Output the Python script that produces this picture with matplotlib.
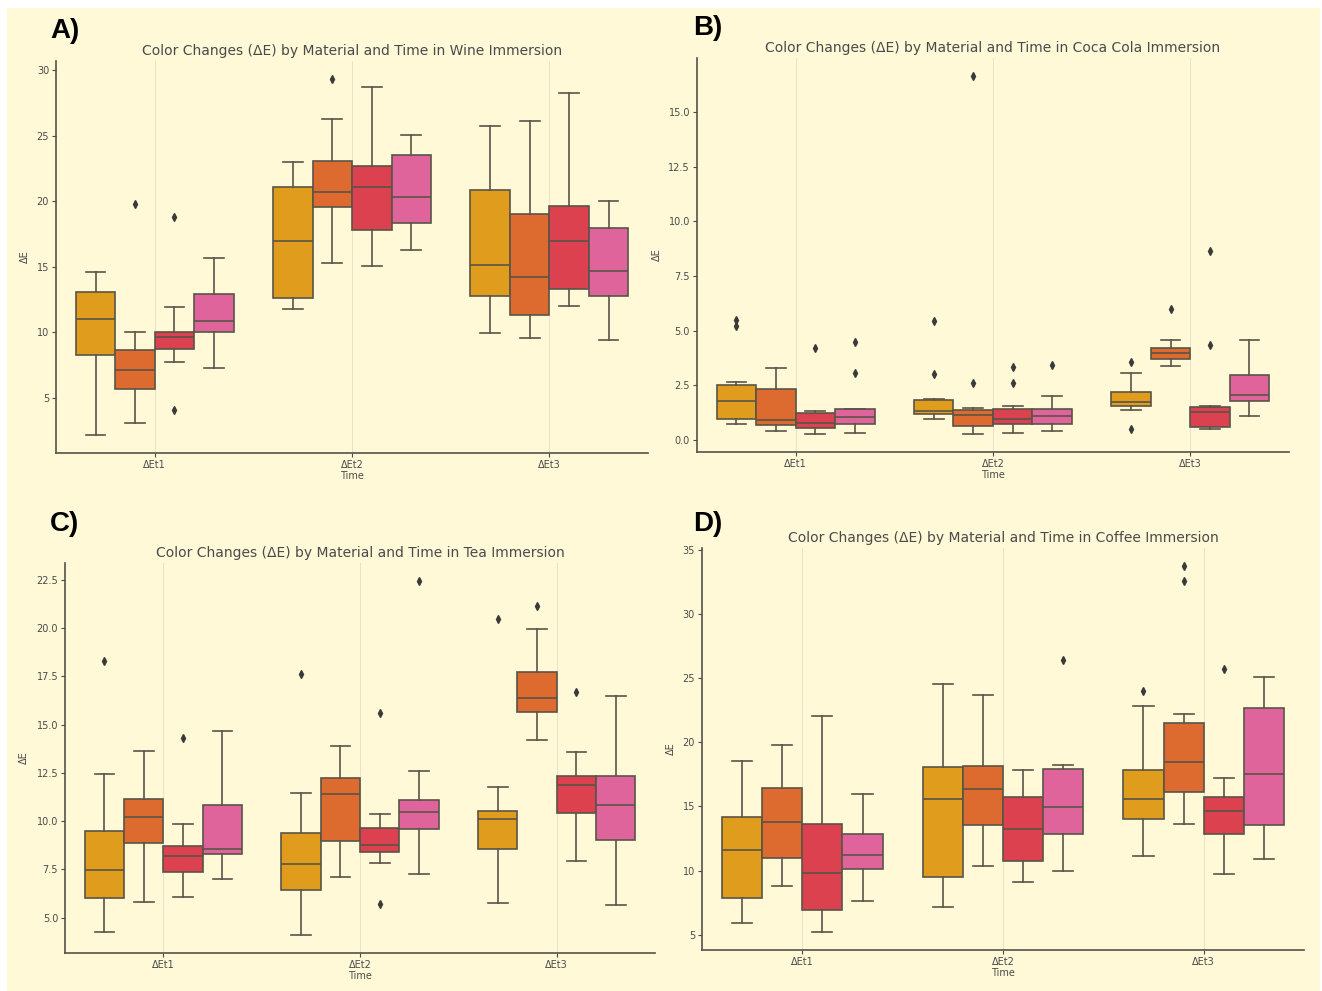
#!/usr/bin/env python3
import matplotlib

matplotlib.use("Agg")

import matplotlib.pyplot as plt
from matplotlib.patches import Rectangle

IMAGE_DPI = 100.0
WIDTH = 1322
HEIGHT = 991

BG = "#FFF9D8"
EDGE = "#5A5447"
TEXT = "#4A4A4A"

times = ["ΔEt1", "ΔEt2", "ΔEt3"]
box_colors = ["#E09C1C", "#DD6A2E", "#DC4150", "#E0649C"]

# A) wine - rows are times, columns are materials
wine_low = [[2.15, 3.1, 7.7, 7.25], [11.8, 15.3, 15.1, 16.3], [9.95, 9.55, 12.0, 9.4]]
wine_q1 = [[8.3, 5.7, 8.7, 10.05], [12.6, 19.6, 17.8, 18.35], [12.8, 11.3, 13.3, 12.8]]
wine_med = [[11.0, 7.1, 9.65, 10.85], [17.0, 20.7, 21.1, 20.3], [15.15, 14.25, 16.95, 14.65]]
wine_q3 = [[13.1, 8.65, 10.05, 12.9], [21.1, 23.05, 22.7, 23.5], [20.85, 19.05, 19.65, 17.95]]
wine_high = [[14.6, 10.0, 11.9, 15.7], [23.0, 26.25, 28.75, 25.1], [25.75, 26.15, 28.3, 20.0]]
wine_fliers = [[[], [19.8], [18.8, 4.1], []], [[], [29.35], [], []], [[], [], [], []]]

# B) coca cola
cola_low = [[0.74, 0.38, 0.28, 0.31], [0.95, 0.26, 0.31, 0.41], [1.37, 3.39, 0.48, 1.1]]
cola_q1 = [[0.97, 0.69, 0.54, 0.72], [1.18, 0.61, 0.72, 0.72], [1.55, 3.7, 0.58, 1.76]]
cola_med = [[1.78, 0.89, 0.77, 1.04], [1.3, 1.15, 0.97, 1.1], [1.72, 3.99, 1.26, 2.04]]
cola_q3 = [[2.52, 2.32, 1.23, 1.41], [1.81, 1.38, 1.43, 1.4], [2.21, 4.2, 1.49, 2.96]]
cola_high = [[2.64, 3.27, 1.32, 1.42], [1.87, 1.44, 1.56, 1.99], [3.05, 4.59, 1.55, 4.59]]
cola_fliers = [
    [[5.48, 5.21], [], [4.19], [4.46, 3.07]],
    [[5.43, 3.02], [16.67, 2.59], [3.33, 2.59], [3.42]],
    [[3.54, 0.51], [5.97], [8.67, 4.36], []],
]

# C) tea
tea_low = [[4.26, 5.83, 6.07, 7.0], [4.09, 7.1, 7.83, 7.24], [5.76, 14.22, 7.93, 5.64]]
tea_q1 = [[6.03, 8.88, 7.36, 8.31], [6.45, 8.97, 8.41, 9.57], [8.57, 15.64, 10.41, 9.03]]
tea_med = [[7.45, 10.22, 8.19, 8.57], [7.79, 11.41, 8.79, 10.5], [10.1, 16.38, 11.86, 10.84]]
tea_q3 = [[9.48, 11.17, 8.72, 10.86], [9.38, 12.21, 9.66, 11.12], [10.55, 17.71, 12.36, 12.36]]
tea_high = [[12.45, 13.62, 9.83, 14.69], [11.47, 13.9, 10.36, 12.62], [11.76, 19.93, 13.59, 16.47]]
tea_fliers = [
    [[18.28], [], [14.29], []],
    [[17.62], [], [15.6, 5.71], [22.45]],
    [[20.47], [21.14], [16.71], []],
]

# D) coffee
coffee_low = [[5.94, 8.81, 5.23, 7.66], [7.19, 10.37, 9.09, 10.0], [11.15, 13.66, 9.75, 10.92]]
coffee_q1 = [[7.87, 11.0, 6.93, 10.14], [9.46, 13.53, 10.74, 12.82], [14.05, 16.11, 12.87, 13.53]]
coffee_med = [[11.6, 13.81, 9.8, 11.2], [15.56, 16.34, 13.27, 14.93], [15.56, 18.48, 14.62, 17.52]]
coffee_q3 = [[14.15, 16.42, 13.6, 12.85], [18.09, 18.14, 15.72, 17.96], [17.88, 21.53, 15.77, 22.7]]
coffee_high = [[18.56, 19.79, 22.05, 16.0], [24.58, 23.72, 17.86, 18.27], [22.86, 22.21, 17.2, 25.08]]
coffee_fliers = [
    [[], [], [], []],
    [[], [], [], [26.46]],
    [[24.04], [33.74, 32.56], [25.7], []],
]


def plot_panel(ax, title, low, q1, med, q3, high, fliers):
    ax.set_facecolor(BG)
    for t in range(len(times)):
        for m, color in enumerate(box_colors):
            stats = {
                "whislo": low[t][m],
                "q1": q1[t][m],
                "med": med[t][m],
                "q3": q3[t][m],
                "whishi": high[t][m],
                "fliers": fliers[t][m],
            }
            ax.bxp(
                [stats],
                positions=[t - 0.3 + 0.2 * m],
                widths=[0.2],
                patch_artist=True,
                manage_ticks=False,
                boxprops=dict(facecolor=color, edgecolor=EDGE, linewidth=1.2),
                medianprops=dict(color=EDGE, linewidth=1.2),
                whiskerprops=dict(color=EDGE, linewidth=1.2),
                capprops=dict(color=EDGE, linewidth=1.2),
                flierprops=dict(
                    marker="d",
                    markersize=4,
                    markerfacecolor="#3A3A3A",
                    markeredgecolor="#3A3A3A",
                ),
            )

    ax.set_xlim(-0.5, len(times) - 0.5)
    ax.set_xticks(range(len(times)))
    ax.set_xticklabels(times)
    ax.grid(axis="x", color="#E8E2C6", linewidth=0.7)
    ax.set_axisbelow(True)

    ax.set_title(title, fontsize=10, color=TEXT, pad=4)
    ax.set_xlabel("Time", fontsize=7, color=TEXT, labelpad=1)
    ax.set_ylabel("ΔE", fontsize=7, color=TEXT, labelpad=5)
    ax.tick_params(labelsize=7, colors=TEXT, length=3, width=0.8, pad=2)

    ax.spines["right"].set_visible(False)
    ax.spines["top"].set_visible(False)
    for side in ["left", "bottom"]:
        ax.spines[side].set_color("#55524A")
        ax.spines[side].set_linewidth(1.2)


fig = plt.figure(facecolor="white")
fig.set_size_inches(WIDTH / IMAGE_DPI, HEIGHT / IMAGE_DPI)

# cream sheet behind the panels, with a thin white edge top and left
fig.patches.append(
    Rectangle(
        (7 / WIDTH, 0),
        (WIDTH - 9) / WIDTH,
        (HEIGHT - 8) / HEIGHT,
        transform=fig.transFigure,
        facecolor=BG,
        edgecolor="none",
        zorder=-10,
    )
)

ax_a = fig.add_axes([0.0424, 0.5429, 0.4478, 0.3955])
ax_b = fig.add_axes([0.5272, 0.5439, 0.4478, 0.3976])
ax_c = fig.add_axes([0.0492, 0.0383, 0.4463, 0.3936])
ax_d = fig.add_axes([0.5310, 0.0414, 0.4554, 0.4056])

plot_panel(
    ax_a,
    "Color Changes (ΔE) by Material and Time in Wine Immersion",
    wine_low, wine_q1, wine_med, wine_q3, wine_high, wine_fliers,
)
plot_panel(
    ax_b,
    "Color Changes (ΔE) by Material and Time in Coca Cola Immersion",
    cola_low, cola_q1, cola_med, cola_q3, cola_high, cola_fliers,
)
plot_panel(
    ax_c,
    "Color Changes (ΔE) by Material and Time in Tea Immersion",
    tea_low, tea_q1, tea_med, tea_q3, tea_high, tea_fliers,
)
plot_panel(
    ax_d,
    "Color Changes (ΔE) by Material and Time in Coffee Immersion",
    coffee_low, coffee_q1, coffee_med, coffee_q3, coffee_high, coffee_fliers,
)

label_font = dict(fontsize=20, fontweight="bold", family="Liberation Sans", color="black")
fig.text(50 / WIDTH, 1 - 31 / HEIGHT, "A)", va="center", **label_font)
fig.text(693 / WIDTH, 1 - 28 / HEIGHT, "B)", va="center", **label_font)
fig.text(50 / WIDTH, 1 - 524 / HEIGHT, "C)", va="center", **label_font)
fig.text(693 / WIDTH, 1 - 524 / HEIGHT, "D)", va="center", **label_font)

fig.savefig("out.png", dpi=IMAGE_DPI, facecolor=fig.get_facecolor())
